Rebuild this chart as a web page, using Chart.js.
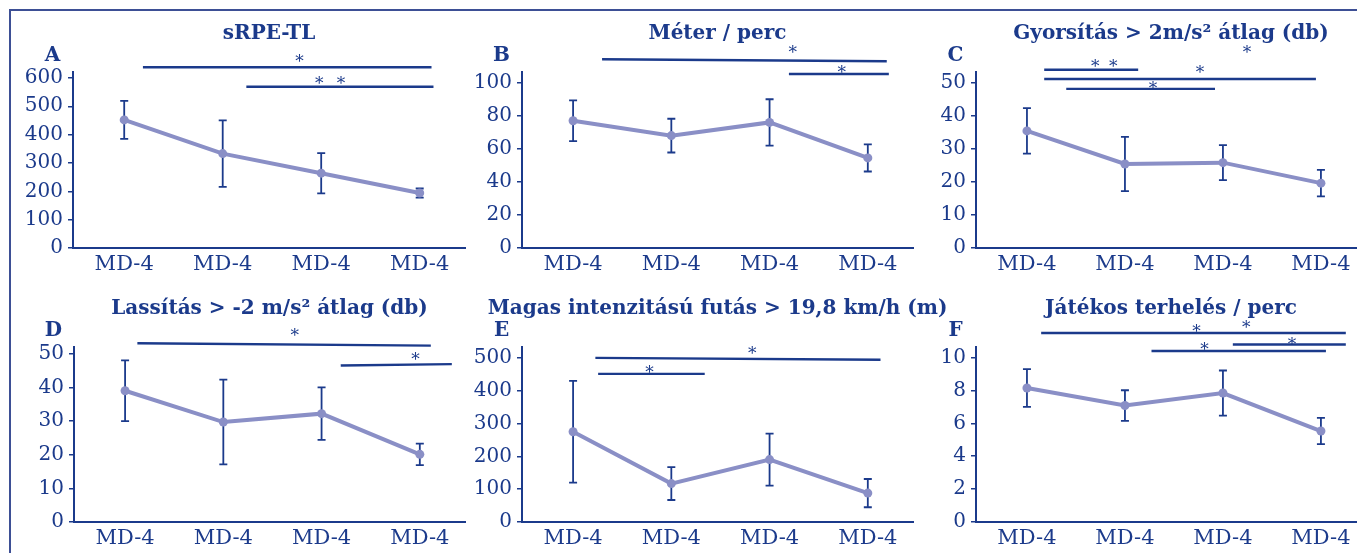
<!DOCTYPE html>
<html>
<head>
<meta charset="utf-8">
<title>Terhelési mutatók</title>
<script src="https://cdn.jsdelivr.net/npm/chart.js@4.4.1/dist/chart.umd.min.js"></script>
<style>
  html, body { margin: 0; padding: 0; background: #ffffff; width: 1357px; height: 553px; overflow: hidden; }
  #frame { position: absolute; left: 9px; top: 9px; width: 1400px; height: 600px;
           border-top: 2px solid #3d4f95; border-left: 2px solid #3d4f95; }
  canvas { position: absolute; left: 0; top: 0; }
</style>
</head>
<body>
<div id="frame"></div>
<canvas id="cA" width="1400" height="600"></canvas>
<canvas id="cB" width="1400" height="600"></canvas>
<canvas id="cC" width="1400" height="600"></canvas>
<canvas id="cD" width="1400" height="600"></canvas>
<canvas id="cE" width="1400" height="600"></canvas>
<canvas id="cF" width="1400" height="600"></canvas>
<script>
// ---- data -------------------------------------------------------------
const categories = ['MD-4', 'MD-4', 'MD-4', 'MD-4'];

// mean and standard deviation per training day
const sRpeMean  = [452, 333, 264, 194];
const sRpeSd    = [67, 117, 71, 16];
const meterMean = [77, 68, 76, 54.5];
const meterSd   = [12.3, 10.2, 14, 8.2];
const accMean   = [35.4, 25.4, 25.8, 19.6];
const accSd     = [6.9, 8.2, 5.3, 4.0];
const decMean   = [39, 29.7, 32.2, 20.1];
const decSd     = [9, 12.6, 7.8, 3.2];
const hirMean   = [275, 117, 190, 88];
const hirSd     = [155, 50, 79, 43];
const loadMean  = [8.15, 7.08, 7.84, 5.53];
const loadSd    = [1.15, 0.93, 1.37, 0.8];

// y-axis tick labels
const sRpeTicks  = [0, 100, 200, 300, 400, 500, 600];
const meterTicks = [0, 20, 40, 60, 80, 100];
const accTicks   = [0, 10, 20, 30, 40, 50];
const decTicks   = [0, 10, 20, 30, 40, 50];
const hirTicks   = [0, 100, 200, 300, 400, 500];
const loadTicks  = [0, 2, 4, 6, 8, 10];

// significance brackets: [fromDay, toDay, yLeft, yRight] in axis units
const sRpeBars  = [[0.19, 3.12, 638, 638], [1.24, 3.14, 569, 569]];
const meterBars = [[0.295, 3.193, 114.2, 113.0], [2.197, 3.214, 105.3, 105.3]];
const accBars   = [[0.176, 1.135, 53.9, 53.9], [0.176, 2.949, 51.1, 51.1], [0.401, 1.919, 48.1, 48.1]];
const decBars   = [[0.125, 3.112, 53.1, 52.4], [2.195, 3.326, 46.5, 46.9]];
const hirBars   = [[0.227, 3.129, 500, 494], [0.255, 1.340, 451, 451]];
const loadBars  = [[0.145, 3.254, 11.49, 11.49], [2.101, 3.254, 10.79, 10.79], [1.271, 3.051, 10.4, 10.4]];

// significance asterisks: [day, y] (centre of the glyph) in axis units
const sRpeStars  = [[1.78, 674], [1.98, 596], [2.20, 596]];
const meterStars = [[2.237, 121], [2.736, 109.1]];
const accStars   = [[0.696, 56.3], [0.88, 56.3], [1.767, 54.5], [1.287, 49.6], [2.246, 60.4]];
const decStars   = [[1.726, 56.7], [2.956, 49.6]];
const hirStars   = [[1.823, 528], [0.777, 471]];
const loadStars  = [[1.729, 11.85], [2.237, 12.1], [2.705, 11.05], [1.813, 10.79]];

// ---- styling & layout ------------------------------------------------
const NAVY = '#1b3a8b';
const LINE = '#8a8fc6';
const FONT = "'DejaVu Serif', 'Liberation Serif', serif";
const CANVAS_W = 1400, CANVAS_H = 600;
const Y_AXIS_W = 60, X_AXIS_H = 36;
const X_MIN = -0.52, X_MAX = 3.46;

const panels = [
  { canvas: 'cA', letter: 'A', title: 'sRPE-TL', mean: sRpeMean, sd: sRpeSd, ticks: sRpeTicks, yMax: 621,
    bars: sRpeBars, stars: sRpeStars, area: { left: 73, top: 72, right: 465, bottom: 248 } },
  { canvas: 'cB', letter: 'B', title: 'Méter / perc', mean: meterMean, sd: meterSd, ticks: meterTicks, yMax: 106.5,
    bars: meterBars, stars: meterStars, area: { left: 522, top: 72, right: 913, bottom: 248 } },
  { canvas: 'cC', letter: 'C', title: 'Gyorsítás > 2m/s² átlag (db)', mean: accMean, sd: accSd, ticks: accTicks, yMax: 53.2,
    bars: accBars, stars: accStars, area: { left: 976, top: 72, right: 1366, bottom: 248 } },
  { canvas: 'cD', letter: 'D', title: 'Lassítás > -2 m/s² átlag (db)', mean: decMean, sd: decSd, ticks: decTicks, yMax: 52,
    bars: decBars, stars: decStars, area: { left: 74, top: 347, right: 465, bottom: 522 } },
  { canvas: 'cE', letter: 'E', title: 'Magas intenzitású futás > 19,8 km/h (m)', mean: hirMean, sd: hirSd, ticks: hirTicks, yMax: 533,
    bars: hirBars, stars: hirStars, area: { left: 522, top: 347, right: 913, bottom: 522 } },
  { canvas: 'cF', letter: 'F', title: 'Játékos terhelés / perc', mean: loadMean, sd: loadSd, ticks: loadTicks, yMax: 10.64,
    bars: loadBars, stars: loadStars, area: { left: 976, top: 347, right: 1366, bottom: 522 } }
];

function buildChart(p) {
  // error bars are painted beneath the mean line
  const errorBars = {
    id: 'errorBars',
    beforeDatasetsDraw(chart) {
      const { ctx, scales: { x, y } } = chart;
      ctx.save();
      ctx.strokeStyle = NAVY;
      ctx.lineWidth = 1.8;
      p.mean.forEach((m, i) => {
        const px = x.getPixelForValue(i);
        const top = y.getPixelForValue(m + p.sd[i]);
        const bot = y.getPixelForValue(m - p.sd[i]);
        ctx.beginPath();
        ctx.moveTo(px, top); ctx.lineTo(px, bot);
        ctx.moveTo(px - 4, top); ctx.lineTo(px + 4, top);
        ctx.moveTo(px - 4, bot); ctx.lineTo(px + 4, bot);
        ctx.stroke();
      });
      ctx.restore();
    }
  };

  // panel title, panel letter and significance markers
  const annotations = {
    id: 'annotations',
    afterDraw(chart) {
      const { ctx, chartArea: a, scales: { x, y } } = chart;
      ctx.save();
      ctx.fillStyle = NAVY;
      ctx.strokeStyle = NAVY;
      ctx.textAlign = 'center';
      ctx.textBaseline = 'alphabetic';

      ctx.font = `bold 20px ${FONT}`;
      ctx.fillText(p.title, (a.left + a.right) / 2, a.top - 33.5);

      ctx.font = `bold 20px ${FONT}`;
      ctx.fillText(p.letter, a.left - 20.5, a.top - 11.5);

      ctx.lineWidth = 2.4;
      p.bars.forEach(([x0, x1, y0, y1]) => {
        ctx.beginPath();
        ctx.moveTo(x.getPixelForValue(x0), y.getPixelForValue(y0));
        ctx.lineTo(x.getPixelForValue(x1), y.getPixelForValue(y1));
        ctx.stroke();
      });

      const starSize = 17;
      ctx.font = `${starSize}px ${FONT}`;
      p.stars.forEach(([sx, sy]) => {
        ctx.fillText('*', x.getPixelForValue(sx), y.getPixelForValue(sy) + 0.6 * starSize);
      });
      ctx.restore();
    }
  };

  const a = p.area;
  return new Chart(document.getElementById(p.canvas), {
    type: 'line',
    data: {
      datasets: [{
        data: p.mean.map((v, i) => ({ x: i, y: v })),
        borderColor: LINE,
        backgroundColor: LINE,
        borderWidth: 4,
        pointRadius: 4.5,
        pointHoverRadius: 4.5,
        pointBackgroundColor: LINE,
        pointBorderWidth: 0,
        tension: 0,
        clip: false
      }]
    },
    options: {
      responsive: false,
      animation: false,
      events: [],
      layout: {
        padding: {
          left: a.left - Y_AXIS_W,
          right: CANVAS_W - a.right,
          top: a.top,
          bottom: CANVAS_H - a.bottom - X_AXIS_H
        }
      },
      plugins: {
        legend: { display: false },
        tooltip: { enabled: false },
        title: { display: false }
      },
      scales: {
        x: {
          type: 'linear',
          min: X_MIN,
          max: X_MAX,
          afterBuildTicks: s => { s.ticks = categories.map((_, i) => ({ value: i })); },
          afterFit: s => { s.height = X_AXIS_H; s.paddingLeft = 0; s.paddingRight = 0; },
          ticks: {
            callback: (v, i) => categories[i],
            color: NAVY,
            font: { family: FONT, size: 21 },
            padding: -4,
            maxRotation: 0,
            autoSkip: false
          },
          grid: { display: false },
          border: { display: true, color: NAVY, width: 2 }
        },
        y: {
          type: 'linear',
          min: 0,
          max: p.yMax,
          afterBuildTicks: s => { s.ticks = p.ticks.map(v => ({ value: v })); },
          afterFit: s => { s.width = Y_AXIS_W; s.paddingTop = 0; s.paddingBottom = 0; },
          ticks: {
            color: NAVY,
            font: { family: FONT, size: 20 },
            padding: 5
          },
          grid: {
            display: true,
            drawOnChartArea: false,
            drawTicks: true,
            tickLength: 5,
            color: NAVY,
            lineWidth: 1.5
          },
          border: { display: true, color: NAVY, width: 2 }
        }
      }
    },
    plugins: [errorBars, annotations]
  });
}

panels.forEach(buildChart);
</script>
</body>
</html>
